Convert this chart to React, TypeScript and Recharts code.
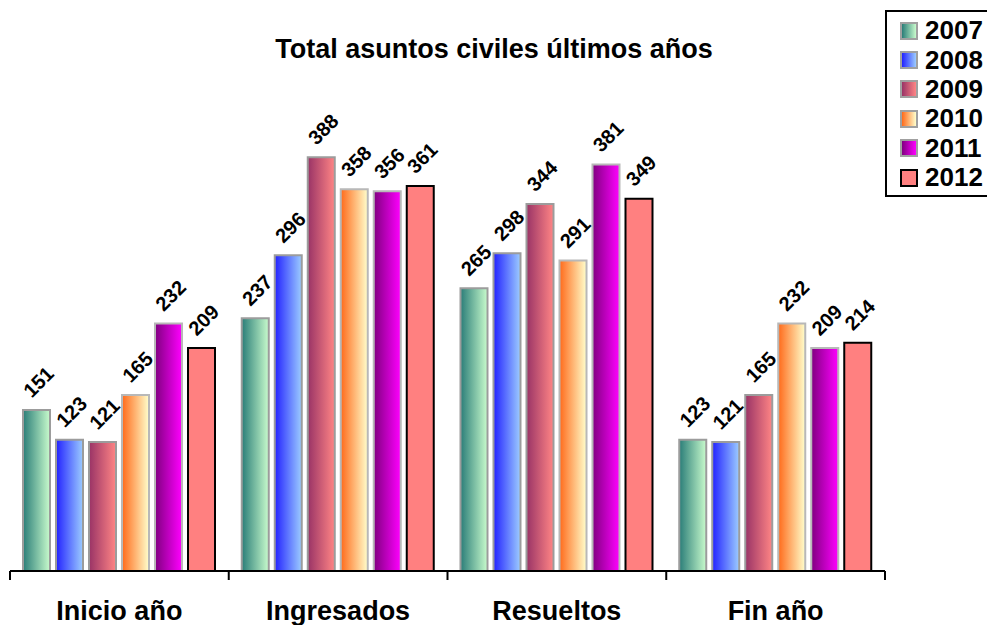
import { BarChart, Bar, XAxis, YAxis, Legend, LabelList } from 'recharts';

const categories = ['Inicio año', 'Ingresados', 'Resueltos', 'Fin año'];
const years = ['2007', '2008', '2009', '2010', '2011', '2012'];
const v2007 = [151, 237, 265, 123];
const v2008 = [123, 296, 298, 121];
const v2009 = [121, 388, 344, 165];
const v2010 = [165, 358, 291, 232];
const v2011 = [232, 356, 381, 209];
const v2012 = [209, 361, 349, 214];

const seriesValues = [v2007, v2008, v2009, v2010, v2011, v2012];

// left / right colour of each bar's horizontal gradient, stroke
const looks = [
  { from: '#2a7d78', to: '#c8fbcc', stroke: '#9c9c9c' },
  { from: '#2222ff', to: '#9cccff', stroke: '#9c9c9c' },
  { from: '#993366', to: '#ff8585', stroke: '#9c9c9c' },
  { from: '#ff6a1a', to: '#ffffcc', stroke: '#b8b8b8' },
  { from: '#800080', to: '#ff00ff', stroke: '#b8b8b8' },
  { from: '#ff8080', to: '#ff8080', stroke: '#000000' },
];

const data = categories.map((name, i) => {
  const row: Record<string, string | number> = { name };
  years.forEach((y, j) => (row[y] = seriesValues[j][i]));
  return row;
});

const WIDTH = 987;
const HEIGHT = 625;
const MARGIN = { top: 91, right: 102, left: 10, bottom: 0 };
const BAND = (WIDTH - MARGIN.left - MARGIN.right) / categories.length;
const FONT = '"Liberation Sans", Arial, sans-serif';

function CategoryTick(props: any) {
  const { x, y, payload, index } = props;
  const left = x - BAND / 2;
  const right = x + BAND / 2;
  return (
    <g>
      <line x1={left} y1={y} x2={left} y2={y + 9} stroke="#000" strokeWidth={2} />
      {index === categories.length - 1 && (
        <line x1={right} y1={y} x2={right} y2={y + 9} stroke="#000" strokeWidth={2} />
      )}
      <text x={x} y={y + 49} textAnchor="middle" fontFamily={FONT} fontWeight="bold" fontSize={27} fill="#000">
        {payload.value}
      </text>
    </g>
  );
}

function ValueLabel(props: any) {
  const { x, y, width, value } = props;
  const cx = x + width / 2 + 2;
  const cy = y - 28;
  return (
    <text
      x={cx}
      y={cy}
      transform={`rotate(-45 ${cx} ${cy})`}
      textAnchor="middle"
      dominantBaseline="central"
      fontFamily={FONT}
      fontWeight="bold"
      fontSize={20}
      fill="#000"
    >
      {value}
    </text>
  );
}

function LegendBox() {
  return (
    <div
      style={{
        border: '2px solid #000',
        boxSizing: 'border-box',
        width: 110,
        height: 187,
        padding: '4px 0 0 13px',
        fontFamily: FONT,
        fontWeight: 'bold',
        fontSize: 26,
        background: '#fff',
      }}
    >
      {years.map((y, i) => (
        <div key={y} style={{ display: 'flex', alignItems: 'center', height: 29.4 }}>
          <span
            style={{
              display: 'inline-block',
              width: 14,
              height: 14,
              border: `2px solid ${i === 5 ? '#000' : '#a0a0a0'}`,
              background: `linear-gradient(to right, ${looks[i].from}, ${looks[i].to})`,
              marginRight: 7,
            }}
          />
          <span style={{ lineHeight: '29px' }}>{y}</span>
        </div>
      ))}
    </div>
  );
}

export default function App() {
  return (
    <div style={{ position: 'absolute', left: 0, top: 0, width: WIDTH, height: HEIGHT, background: '#fff' }}>
      <BarChart width={WIDTH} height={HEIGHT} data={data} margin={MARGIN} barCategoryGap={13} barGap={6}>
        <defs>
          {looks.map((l, i) => (
            <linearGradient key={i} id={`grad${i}`} x1="0" y1="0" x2="1" y2="0">
              <stop offset="0%" stopColor={l.from} />
              <stop offset="100%" stopColor={l.to} />
            </linearGradient>
          ))}
        </defs>
        <text x={494} y={58} textAnchor="middle" fontFamily={FONT} fontWeight="bold" fontSize={27} fill="#000">
          Total asuntos civiles últimos años
        </text>
        <XAxis
          dataKey="name"
          height={54}
          interval={0}
          tickLine={false}
          tickSize={0}
          tickMargin={0}
          axisLine={{ stroke: '#000', strokeWidth: 2 }}
          tick={<CategoryTick />}
        />
        <YAxis hide domain={[0, 450]} />
        <Legend
          layout="vertical"
          align="center"
          verticalAlign="middle"
          wrapperStyle={{ left: 885, top: 10, width: 110, height: 187 }}
          content={() => <LegendBox />}
        />
        {years.map((y, i) => (
          <Bar
            key={y}
            dataKey={y}
            fill={`url(#grad${i})`}
            stroke={looks[i].stroke}
            strokeWidth={2}
            isAnimationActive={false}
          >
            <LabelList dataKey={y} content={<ValueLabel />} />
          </Bar>
        ))}
      </BarChart>
    </div>
  );
}
